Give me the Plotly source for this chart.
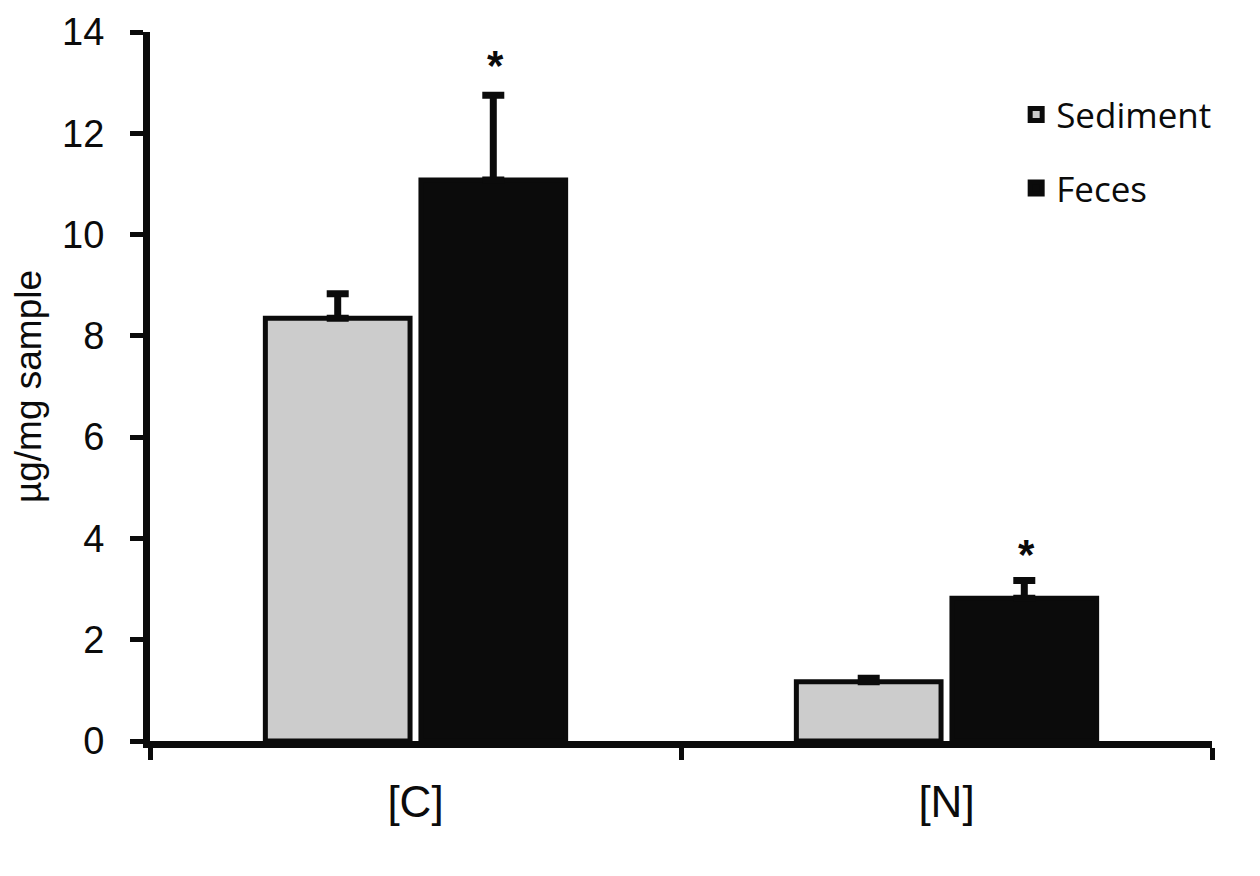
import plotly.graph_objects as go

# values
categories = ["[C]", "[N]"]
sediment = [8.35, 1.17]
sediment_err = [0.48, 0.07]
feces = [11.08, 2.82]
feces_err = [1.67, 0.35]
star_y = [13.33, 3.69]

fig = go.Figure()

fig.add_trace(go.Bar(
    x=categories, y=sediment, name="Sediment",
    marker=dict(color="#cccccc", line=dict(color="#0b0b0b", width=5)),
    error_y=dict(type="data", symmetric=False, array=sediment_err,
                 arrayminus=[0, 0], color="#0b0b0b", thickness=7, width=11),
    legendgroup="a",
))
fig.add_trace(go.Bar(
    x=categories, y=feces, name="Feces",
    marker=dict(color="#0b0b0b", line=dict(color="#0b0b0b", width=5)),
    error_y=dict(type="data", symmetric=False, array=feces_err,
                 arrayminus=[0, 0], color="#0b0b0b", thickness=7, width=11),
    legendgroup="b",
))

# significance stars above the feces bars
for cat, yy in zip(categories, star_y):
    fig.add_annotation(x=cat, y=yy, text="<b>*</b>", showarrow=False, xshift=80,
                       font=dict(family="Liberation Sans", size=42, color="#0b0b0b"))

fig.update_layout(
    width=1260, height=876,
    margin=dict(l=142, r=56, t=24, b=143),
    plot_bgcolor="white", paper_bgcolor="white",
    barmode="group", bargap=0.414, bargroupgap=0.07,
    font=dict(family="Liberation Sans", color="#0b0b0b"),
    legend=dict(x=0.8156, y=0.925, xanchor="left", yanchor="top",
                font=dict(family="Open Sans", size=35),
                traceorder="grouped", tracegroupgap=25,
                itemwidth=30, bgcolor="rgba(0,0,0,0)"),
)

fig.update_xaxes(
    showline=True, linecolor="#0b0b0b", linewidth=7,
    ticks="outside", tickson="boundaries", ticklen=12, tickwidth=5,
    tickcolor="#0b0b0b", tickfont=dict(size=44), ticklabelstandoff=16,
    showgrid=False, automargin=False,
)
fig.update_yaxes(
    range=[0, 14], dtick=2, showline=True, linecolor="#0b0b0b", linewidth=7,
    ticks="outside", ticklen=13, tickwidth=5, tickcolor="#0b0b0b",
    tickfont=dict(size=38), ticklabelstandoff=18, ticklabeloverflow="allow",
    showgrid=False, zeroline=False, automargin=False,
    title=dict(text="µg/mg sample", font=dict(size=37), standoff=14),
)

fig.write_html("out.html")
